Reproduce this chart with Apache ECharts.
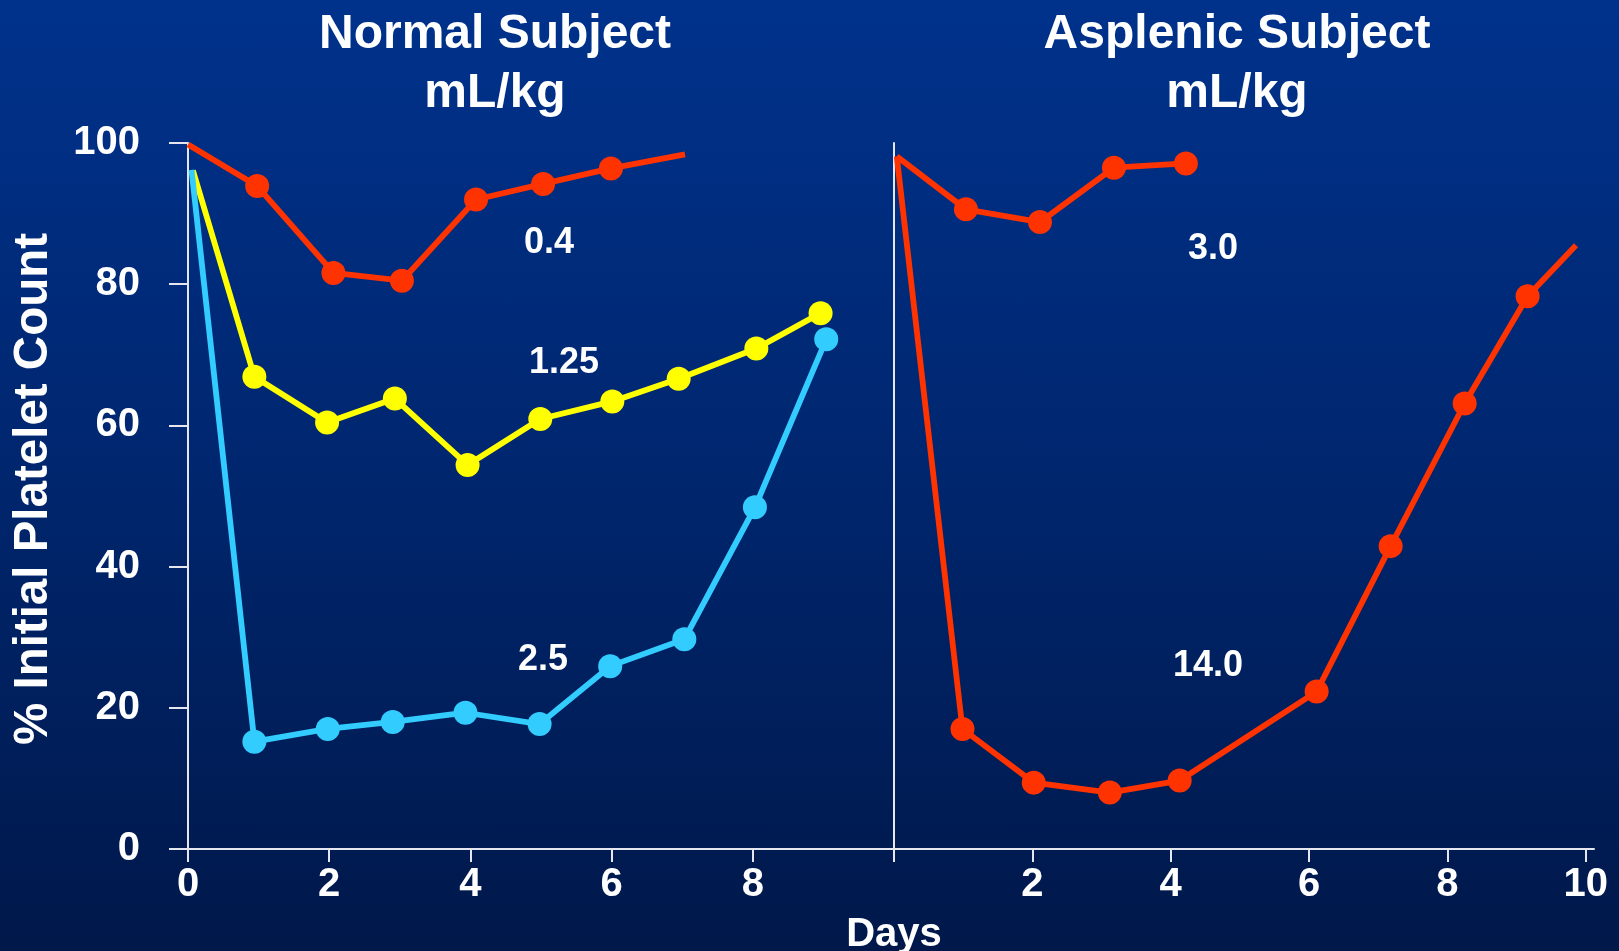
<!DOCTYPE html>
<html>
<head>
<meta charset="utf-8">
<script src="https://cdn.jsdelivr.net/npm/echarts@6/dist/echarts.min.js"></script>
<style>
html,body{margin:0;padding:0;}
#chart{width:1619px;height:951px;background:linear-gradient(to bottom, rgb(0,50,140) 0%, rgb(0,38,110) 50%, rgb(0,24,74) 100%);}
</style>
</head>
<body>
<div id="chart"></div>
<script>
// ---- data (days, % initial platelet count) ----
const yTicks = [0, 20, 40, 60, 80, 100];
const normalXTicks = [0, 2, 4, 6, 8, 10];
const normalXLabels = [0, 2, 4, 6, 8];
const asplenicXTicks = [0, 2, 4, 6, 8, 10];
const asplenicXLabels = [2, 4, 6, 8, 10];

const normal04Days   = [0, 0.98, 2.06, 3.03, 4.08, 5.03, 5.99, 7.04];
const normal04Vals   = [99.8, 93.9, 81.6, 80.5, 92.0, 94.2, 96.4, 98.4];

const normal125Days  = [0.07, 0.94, 1.97, 2.93, 3.96, 4.99, 6.01, 6.95, 8.05, 8.96];
const normal125Vals  = [96.1, 66.9, 60.4, 63.8, 54.4, 60.9, 63.4, 66.6, 70.9, 75.9];

const normal25Days   = [0.05, 0.94, 1.98, 2.90, 3.93, 4.98, 5.98, 7.03, 8.03, 9.04];
const normal25Vals   = [96.2, 15.2, 17.0, 18.0, 19.3, 17.7, 25.9, 29.7, 48.4, 72.2];

const asplenic30Days = [0.04, 1.04, 2.11, 3.18, 4.22];
const asplenic30Vals = [98.1, 90.6, 88.8, 96.5, 97.1];

const asplenic140Days = [0.04, 0.99, 2.02, 3.12, 4.13, 6.11, 7.18, 8.25, 9.16, 9.86];
const asplenic140Vals = [98.1, 17.0, 9.4, 8.0, 9.7, 22.3, 42.9, 63.1, 78.3, 85.5];

const seriesNames = ['0.4', '1.25', '2.5', '3.0', '14.0'];
const titles = ['Normal Subject\nmL/kg', 'Asplenic Subject\nmL/kg'];
const yAxisTitle = '% Initial Platelet Count';
const xAxisTitle = 'Days';

// ---- chart ----
const FONT = '"Liberation Sans", Arial, Helvetica, sans-serif';
const AXIS_COLOR = '#e6e6ee';

function pts(days, vals, unmarkFirst, unmarkLast) {
  return days.map((d, i) => {
    const item = { value: [d, vals[i]] };
    if ((i === 0 && unmarkFirst) || (i === days.length - 1 && unmarkLast)) item.symbol = 'none';
    return item;
  });
}

function mkSeries(name, color, gi, data) {
  return {
    name, type: 'line', xAxisIndex: gi, yAxisIndex: gi,
    data, symbol: 'circle', symbolSize: 24, showSymbol: true,
    lineStyle: { color, width: 5.8 },
    itemStyle: { color },
    emphasis: { disabled: true },
    animation: false, z: 3
  };
}

function xAxis(gi, max, ticks, labels) {
  return {
    type: 'value', gridIndex: gi, min: 0, max, interval: 2,
    axisLine: { show: true, lineStyle: { color: AXIS_COLOR, width: 2 } },
    axisTick: { show: true, length: 13, customValues: ticks, lineStyle: { color: AXIS_COLOR, width: 2 } },
    splitLine: { show: false },
    axisLabel: {
      margin: 16, color: '#ffffff', fontSize: 40, fontWeight: 'bold', fontFamily: FONT,
      customValues: labels,
      formatter: v => (labels.indexOf(v) >= 0 ? String(v) : '')
    }
  };
}

function yAxis(gi, showLabels) {
  return {
    type: 'value', gridIndex: gi, min: 0, max: 100, interval: 20,
    axisLine: { show: true, onZero: false, lineStyle: { color: AXIS_COLOR, width: 2 } },
    axisTick: { show: showLabels, length: 19, lineStyle: { color: AXIS_COLOR, width: 2 } },
    splitLine: { show: false },
    axisLabel: {
      show: showLabels, margin: 48, color: '#ffffff', fontSize: 40, fontWeight: 'bold', fontFamily: FONT,
      formatter: v => (yTicks.indexOf(v) >= 0 ? String(v) : '')
    }
  };
}

function txt(text, x, y, size, extra) {
  const el = {
    type: 'text', x, y, z: 10,
    style: { text, fill: '#ffffff', font: 'bold ' + size + 'px ' + FONT, align: 'center', verticalAlign: 'middle' }
  };
  if (extra && extra.lineHeight) el.style.lineHeight = extra.lineHeight;
  if (extra && extra.rotation) el.rotation = extra.rotation;
  return el;
}

const chart = echarts.init(document.getElementById('chart'), null, { renderer: 'canvas' });
chart.setOption({
  backgroundColor: 'transparent',
  animation: false,
  grid: [
    { left: 188, top: 143, width: 706, height: 706 },
    { left: 894, top: 143, width: 700, height: 706 }
  ],
  xAxis: [xAxis(0, 10, normalXTicks, normalXLabels), xAxis(1, 10.12, asplenicXTicks, asplenicXLabels)],
  yAxis: [yAxis(0, true), yAxis(1, false)],
  series: [
    mkSeries(seriesNames[0], '#FF3300', 0, pts(normal04Days, normal04Vals, true, true)),
    mkSeries(seriesNames[1], '#FFFF00', 0, pts(normal125Days, normal125Vals, true, false)),
    mkSeries(seriesNames[2], '#33CCFF', 0, pts(normal25Days, normal25Vals, true, false)),
    mkSeries(seriesNames[3], '#FF3300', 1, pts(asplenic30Days, asplenic30Vals, true, false)),
    mkSeries(seriesNames[4], '#FF3300', 1, pts(asplenic140Days, asplenic140Vals, true, true))
  ],
  graphic: [
    txt(titles[0], 495, 64, 48, { lineHeight: 59 }),
    txt(titles[1], 1237, 64, 48, { lineHeight: 59 }),
    txt(yAxisTitle, 34, 489, 47.5, { rotation: Math.PI / 2 }),
    txt(xAxisTitle, 894, 935, 40),
    txt(seriesNames[0], 549, 243, 36),
    txt(seriesNames[1], 564, 363, 36),
    txt(seriesNames[2], 543, 660, 36),
    txt(seriesNames[3], 1213, 249, 36),
    txt(seriesNames[4], 1208, 666, 36)
  ]
});
</script>
</body>
</html>
